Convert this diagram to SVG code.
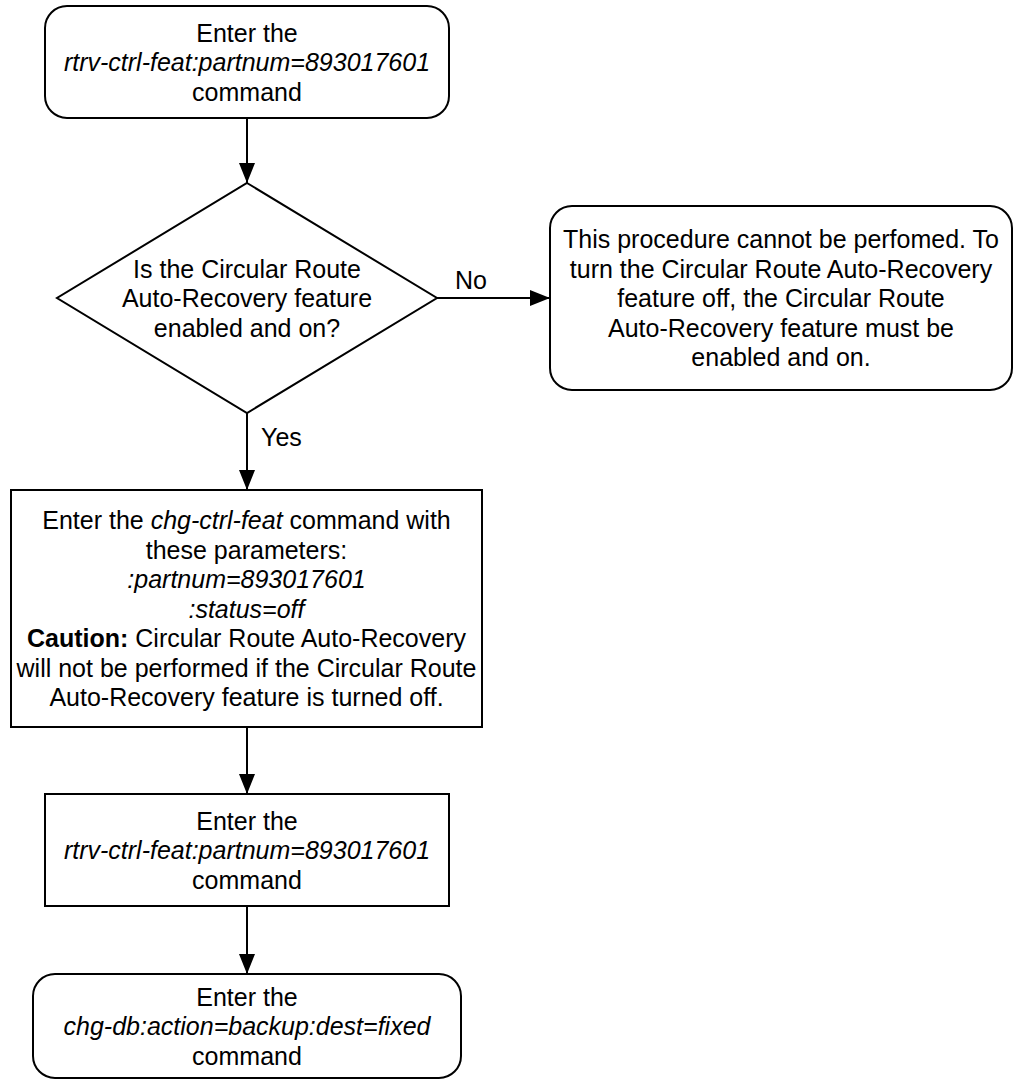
<svg xmlns="http://www.w3.org/2000/svg" width="1020" height="1085" viewBox="0 0 1020 1085">
<style>
.s{fill:#fff;stroke:#000;stroke-width:2}
.t{font-family:"Liberation Sans",Arial,sans-serif;font-size:25px;fill:#000;text-anchor:middle}
.i{font-style:italic}
.b{font-weight:bold}
.c{fill:none;stroke:#000;stroke-width:2}
.l{font-family:"Liberation Sans",Arial,sans-serif;font-size:25px;fill:#000}
</style>
<defs>
<marker id="ah" viewBox="0 0 20 16" refX="20" refY="8" markerWidth="20" markerHeight="16" markerUnits="userSpaceOnUse" orient="auto">
<path d="M0,0 L20,8 L0,16 Z" fill="#000"/>
</marker>
</defs>
<g id="connectors">
<line class="c" x1="247" y1="118" x2="247" y2="183" marker-end="url(#ah)"/>
<line class="c" x1="437" y1="298" x2="550" y2="298" marker-end="url(#ah)"/>
<line class="c" x1="247" y1="413" x2="247" y2="490" marker-end="url(#ah)"/>
<line class="c" x1="247" y1="727" x2="247" y2="794" marker-end="url(#ah)"/>
<line class="c" x1="247" y1="906" x2="247" y2="974" marker-end="url(#ah)"/>
<text class="l" x="455" y="289">No</text>
<text class="l" x="261" y="446">Yes</text>
</g>
<g id="start">
<rect class="s" x="45" y="6" width="404" height="112" rx="22"/>
<text class="t" x="247" y="41.5">Enter the</text>
<text class="t i" x="247" y="71">rtrv-ctrl-feat:partnum=893017601</text>
<text class="t" x="247" y="100.5">command</text>
</g>
<g id="decision">
<polygon class="s" points="247,183 437,298 247,413 57,298"/>
<text class="t" x="247" y="277.5">Is the Circular Route</text>
<text class="t" x="247" y="307">Auto-Recovery feature</text>
<text class="t" x="247" y="336.5">enabled and on?</text>
</g>
<g id="stop">
<rect class="s" x="550" y="206" width="462" height="184" rx="22"/>
<text class="t" x="781" y="248">This procedure cannot be perfomed. To</text>
<text class="t" x="781" y="277.5">turn the Circular Route Auto-Recovery</text>
<text class="t" x="781" y="307">feature off, the Circular Route</text>
<text class="t" x="781" y="336.5">Auto-Recovery feature must be</text>
<text class="t" x="781" y="366">enabled and on.</text>
</g>
<g id="chg">
<rect class="s" x="11" y="490" width="471" height="237"/>
<text class="t" x="246.5" y="529">Enter the <tspan class="i">chg-ctrl-feat</tspan> command with</text>
<text class="t" x="246.5" y="558.5">these parameters:</text>
<text class="t i" x="246.5" y="588">:partnum=893017601</text>
<text class="t i" x="246.5" y="617.5">:status=off</text>
<text class="t" x="246.5" y="647"><tspan class="b">Caution:</tspan> Circular Route Auto-Recovery</text>
<text class="t" x="246.5" y="676.5">will not be performed if the Circular Route</text>
<text class="t" x="246.5" y="706">Auto-Recovery feature is turned off.</text>
</g>
<g id="verify">
<rect class="s" x="45" y="794" width="404" height="112"/>
<text class="t" x="247" y="829.5">Enter the</text>
<text class="t i" x="247" y="859">rtrv-ctrl-feat:partnum=893017601</text>
<text class="t" x="247" y="888.5">command</text>
</g>
<g id="backup">
<rect class="s" x="33" y="974" width="428" height="104" rx="22"/>
<text class="t" x="247" y="1005.5">Enter the</text>
<text class="t i" x="247" y="1035">chg-db:action=backup:dest=fixed</text>
<text class="t" x="247" y="1064.5">command</text>
</g>
</svg>
